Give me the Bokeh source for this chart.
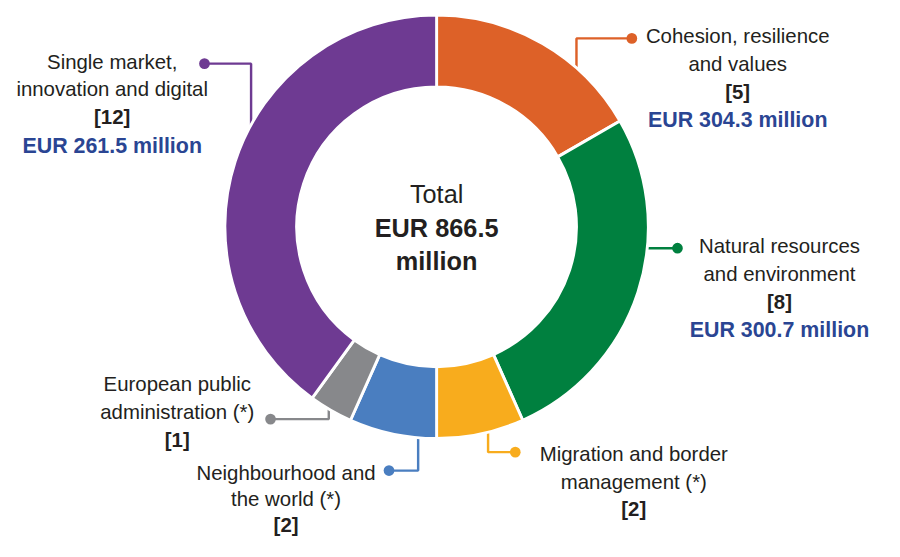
import numpy as np
from bokeh.plotting import figure
from bokeh.models import Range1d, ColumnDataSource
from bokeh.core.properties import value
from bokeh.embed import file_html
from bokeh.resources import INLINE

# ---- data ----
categories = ["Cohesion, resilience and values", "Natural resources and environment",
              "Migration and border management (*)", "Neighbourhood and the world (*)",
              "European public administration (*)", "Single market, innovation and digital"]
counts = [5, 8, 2, 2, 1, 12]
amounts = ["EUR 304.3 million", "EUR 300.7 million", None, None, None, "EUR 261.5 million"]
total_label = "EUR 866.5"
colors = ["#DD6128", "#00803F", "#F8AC1D", "#4A7EC0", "#87888B", "#6E3A92"]
name_lines = [["Cohesion, resilience", "and values"],
              ["Natural resources", "and environment"],
              ["Migration and border", "management (*)"],
              ["Neighbourhood and", "the world (*)"],
              ["European public", "administration (*)"],
              ["Single market,", "innovation and digital"]]

# ---- layout (reference pixel coordinates, y from top) ----
W, H = 884, 541
S = H / 557.0           # uniform scale from reference pixels to plot pixels
CX, CY = 449, 233
R_OUT, R_IN = 218, 144
label_x = [759, 802, 652, 294, 182, 115]
label_y0 = [37, 253, 467, 486, 395, 63]
line_gap = [28.5, 28.5, 28.5, 27.0, 28.5, 28.5]
leaders = [
    [(650, 39), (593, 39), (593, 80)],
    [(697, 255), (650, 255)],
    [(530, 465), (502, 465), (502, 430)],
    [(400, 484), (430, 484), (430, 430)],
    [(278, 431), (338, 431), (338, 405)],
    [(210, 65), (258, 65), (258, 140)],
]

def Y(py):
    return 557 - py

def px(v):
    return "%.1fpx" % (v * S)

p = figure(width=W, height=H, output_backend="svg", toolbar_location=None,
           x_range=Range1d(0, W / S), y_range=Range1d(0, 557),
           min_border=0, outline_line_color=None)
p.axis.visible = False
p.grid.visible = False
p.background_fill_color = "white"
p.border_fill_color = "white"

# leader lines
xs = [[pt[0] for pt in L] for L in leaders]
ys = [[Y(pt[1]) for pt in L] for L in leaders]
p.multi_line(xs=xs, ys=ys, line_color=colors, line_width=2.5 * S)
p.scatter(x=[L[0][0] for L in leaders], y=[Y(L[0][1]) for L in leaders],
          size=11 * S, color=colors, line_color=None)

# donut
tot = sum(counts)
cum = np.concatenate([[0], np.cumsum(counts)])
start = np.pi / 2 - cum[:-1] / tot * 2 * np.pi
end = np.pi / 2 - cum[1:] / tot * 2 * np.pi
src = ColumnDataSource(dict(start=start, end=end, color=colors))
p.annular_wedge(x=CX, y=Y(CY), inner_radius=R_IN, outer_radius=R_OUT,
                start_angle="start", end_angle="end", direction="clock",
                fill_color="color", line_color="white", line_width=3 * S, source=src)

FONT = value("Liberation Sans")
DARK = "#231F20"
NAVY = "#2A4593"

nx, ny, nt = [], [], []
bx, by, bt = [], [], []
ex, ey, et = [], [], []
for i in range(len(categories)):
    y = label_y0[i]
    g = line_gap[i]
    for ln in name_lines[i]:
        nx.append(label_x[i]); ny.append(Y(y)); nt.append(ln)
        y += g
    bx.append(label_x[i]); by.append(Y(y)); bt.append("[%d]" % counts[i])
    y += g + 1
    if amounts[i]:
        ex.append(label_x[i]); ey.append(Y(y)); et.append(amounts[i])

p.text(x=nx, y=ny, text=nt, text_font=FONT, text_font_size=px(21), text_color=DARK,
       text_align="center", text_baseline="middle")
p.text(x=bx, y=by, text=bt, text_font=FONT, text_font_size=px(21), text_font_style="bold",
       text_color=DARK, text_align="center", text_baseline="middle")
p.text(x=ex, y=ey, text=et, text_font=FONT, text_font_size=px(22), text_font_style="bold",
       text_color=NAVY, text_align="center", text_baseline="middle")

# center
p.text(x=[CX], y=[Y(199)], text=["Total"], text_font=FONT, text_font_size=px(26),
       text_color=DARK, text_align="center", text_baseline="middle")
p.text(x=[CX, CX], y=[Y(234), Y(268)], text=[total_label, "million"], text_font=FONT,
       text_font_size=px(26), text_font_style="bold", text_color=DARK,
       text_align="center", text_baseline="middle")

open("out.html", "w").write(file_html(p, INLINE))
